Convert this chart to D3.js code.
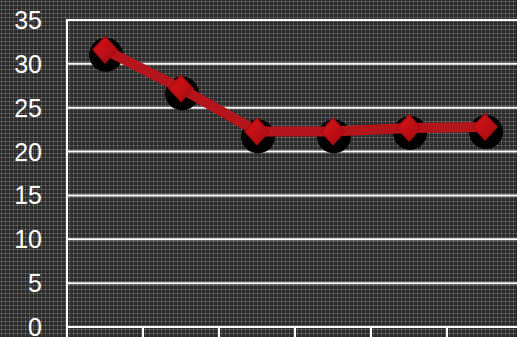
<!DOCTYPE html>
<html><head><meta charset="utf-8">
<script src="https://cdn.jsdelivr.net/npm/d3@7"></script>
<style>html,body{margin:0;padding:0;background:#2e2e2e;overflow:hidden}</style>
</head><body>
<svg id="c" width="517" height="337"></svg>
<script>
const categories = ["A","B","C","D","E","F"];
const values = [31.6, 27.2, 22.3, 22.3, 22.7, 22.8];
const yTicks = [0,5,10,15,20,25,30,35];

const svg = d3.select("#c");
const W = 517, H = 337;
const m = {left: 67};
const defs = svg.append("defs");
const pat = defs.append("pattern").attr("id","bg").attr("width",4).attr("height",4).attr("patternUnits","userSpaceOnUse");
pat.append("rect").attr("width",4).attr("height",4).attr("fill","#262626");
pat.append("rect").attr("x",0).attr("y",1).attr("width",4).attr("height",1).attr("fill","#4e4e4e");
pat.append("rect").attr("x",1).attr("y",0).attr("width",1).attr("height",4).attr("fill","#4e4e4e");
pat.append("rect").attr("x",1).attr("y",1).attr("width",1).attr("height",1).attr("fill","#7e7e7e");
pat.append("rect").attr("x",3).attr("y",3).attr("width",1).attr("height",1).attr("fill","#3c3c3c");
const grad = defs.append("linearGradient").attr("id","dg").attr("x1","0").attr("y1","0").attr("x2","1").attr("y2","1");
grad.append("stop").attr("offset","0").attr("stop-color","#dc141a");
grad.append("stop").attr("offset","1").attr("stop-color","#a20b10");

svg.append("rect").attr("width",W).attr("height",H).attr("fill","url(#bg)");

const x = d3.scaleBand().domain(categories).range([m.left, m.left + 6*76]);
const y = d3.scaleLinear().domain([0,35]).range([327, 20]);

svg.append("g").selectAll("line").data(yTicks).join("line")
  .attr("x1", m.left).attr("x2", W)
  .attr("y1", d=>y(d)).attr("y2", d=>y(d))
  .attr("stroke","#fff").attr("stroke-width",2);

svg.append("line").attr("x1",m.left).attr("x2",m.left).attr("y1",y(35)-1).attr("y2",H)
  .attr("stroke","#fff").attr("stroke-width",2);

const xt = categories.map(c=>x(c)).concat([x(categories[5])+x.bandwidth()]);
svg.append("g").selectAll("line").data(xt).join("line")
  .attr("x1",d=>d).attr("x2",d=>d).attr("y1",y(0)).attr("y2",H)
  .attr("stroke","#fff").attr("stroke-width",2);

svg.append("g").selectAll("text").data(yTicks).join("text")
  .attr("x", 42).attr("y", d=>y(d)).attr("dy","0.36em")
  .attr("text-anchor","end").attr("fill","#fff")
  .attr("font-family","Liberation Sans, Arial, sans-serif").attr("font-size",25)
  .text(d=>d);

const cx = (c)=>x(c)+x.bandwidth()/2;
svg.append("g").selectAll("circle").data(values).join("circle")
  .attr("cx",(d,i)=>cx(categories[i])+1).attr("cy",d=>y(d)+5)
  .attr("r",17).attr("fill","#000");

const line = d3.line().x((d,i)=>cx(categories[i])).y(d=>y(d));
svg.append("path").datum(values).attr("d",line).attr("fill","none")
  .attr("stroke","#b3151b").attr("stroke-width",10).attr("stroke-linejoin","miter");

svg.append("g").selectAll("path").data(values).join("path")
  .attr("transform",(d,i)=>`translate(${cx(categories[i])},${y(d)})`)
  .attr("d","M0,-13L12,0L0,13L-12,0Z")
  .attr("fill","url(#dg)").attr("stroke","#a80d12").attr("stroke-width",1.5);
</script>
</body></html>
